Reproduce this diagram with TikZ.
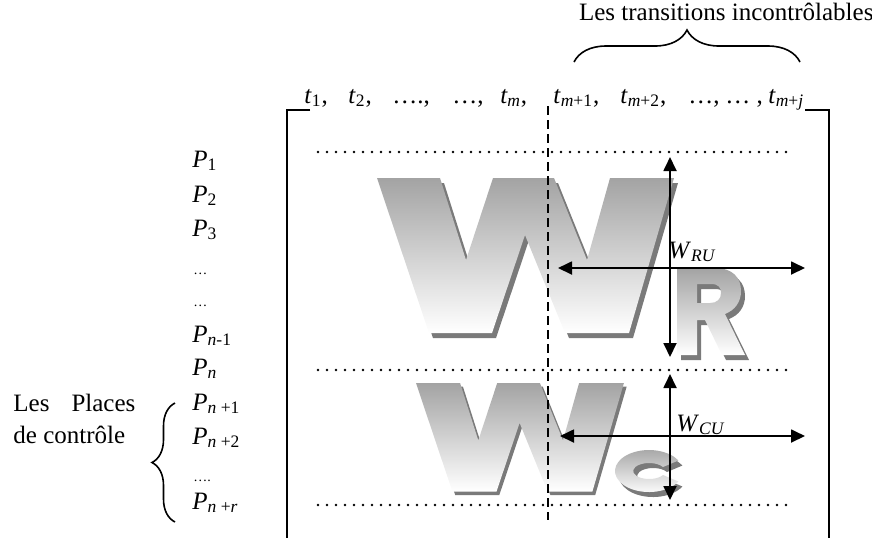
\documentclass[tikz,border=0pt]{standalone}
\usepackage{fontspec}
\setmainfont{Liberation Serif}
\usetikzlibrary{arrows.meta, positioning, decorations.pathreplacing}

\newcommand{\tsub}[1]{\textsubscript{#1}}
% outlines of the big letters
\newcommand{\wshape}{(0,0) -- (63,0) -- (89,-82) -- (116,0) -- (177,0) -- (210,-82) -- (233,0) -- (297,0) -- (252,-155) -- (188,-155) -- (148,-57) -- (115,-155) -- (52,-155) -- cycle}
\newcommand{\rshape}{(0,0) -- (38,0) .. controls (56,0) and (64,-10) .. (64,-23) .. controls (64,-34) and (58,-42) .. (48,-46) -- (68,-87) -- (45,-87) -- (28,-52) -- (20,-52) -- (20,-87) -- (0,-87) -- cycle (20,-16) -- (34,-16) .. controls (42,-16) and (44,-20) .. (44,-25) .. controls (44,-31) and (40,-35) .. (33,-35) -- (20,-35) -- cycle}
\newcommand{\cshape}{(34,-21) ++(30:34 and 21) arc[start angle=30, end angle=330, x radius=34, y radius=21] -- (48,-25) arc[start angle=330, end angle=30, x radius=16, y radius=8] -- cycle}

\tikzset{
    letterfill/.style={top color=black!36, bottom color=white},
    lettershadow/.style={fill=black!52},
    bigW/.pic={
        \fill[lettershadow, shift={(4,-5)}] \wshape;
        \shade[letterfill] \wshape;
    },
    bigR/.pic={
        \fill[lettershadow, even odd rule, shift={(4,-5)}] \rshape;
        \shade[letterfill, even odd rule] \rshape;
    },
    bigC/.pic={
        \fill[lettershadow, shift={(4,-5)}] \cshape;
        \shade[letterfill] \cshape;
    }
}

\begin{document}
\begin{tikzpicture}[
    x=0.5pt, y=0.5pt,
    font=\fontsize{12.5}{16}\selectfont,
    lbl/.style={anchor=base west, inner sep=0pt},
    dimarrow/.style={{Triangle[length=7pt,width=6.5pt]}-{Triangle[length=7pt,width=6.5pt]}, line width=0.9pt},
    rowline/.style={line width=1.3pt, dash pattern=on 0pt off 4.5pt, line cap=round},
    splitline/.style={line width=0.8pt, dash pattern=on 4.5pt off 2.5pt},
    bracket/.style={line width=1pt},
    curly/.style={decorate, decoration={brace, amplitude=#1}, line width=0.8pt}
]
\useasboundingbox (0,0) rectangle (872,-538);

% WordArt letters
\pic at (377,-178) {bigW};
\pic at (677,-268) {bigR};
\pic[scale=0.7] at (416,-383) {bigW};
\pic at (615,-450) {bigC};

% column header
\node[anchor=west] (title) at (572,-12) {Les transitions incontrôlables};
\coordinate (ucl) at (574,-62);
\coordinate (ucr) at (800,-62);
\draw[curly=16pt] (ucl) -- (ucr);

\node[lbl] (t1) at (304,-103) {\textit{t}\tsub{1},};
\node[lbl] (t2) at (348,-103) {\textit{t}\tsub{2},};
\node[lbl] (td1) at (392,-103) {….,};
\node[lbl] (td2) at (452,-103) {…,};
\node[lbl] (tm) at (500,-103) {\textit{t\tsub{m}},};
\node[lbl] (tm1) at (553,-103) {\textit{t}\tsub{\textit{m}+1},};
\node[lbl] (tm2) at (620,-103) {\textit{t}\tsub{\textit{m}+2},};
\node[lbl] (td3) at (688,-103) {…,};
\node[lbl] (td4) at (725,-103) {… ,};
\node[lbl] (tmj) at (768,-103) {\textit{t}\tsub{\textit{m}+\textit{j}}};

% row labels
\node[lbl] (p1) at (192,-167) {\textit{P}\tsub{1}};
\node[lbl] (p2) at (192,-202) {\textit{P}\tsub{2}};
\node[lbl] (p3) at (192,-236) {\textit{P}\tsub{3}};
\node[lbl, font=\scriptsize] (pd1) at (193,-274) {…};
\node[lbl, font=\scriptsize] (pd2) at (193,-306) {…};
\node[lbl] (pn1) at (192,-342) {\textit{P}\tsub{\textit{n}-1}};
\node[lbl] (pn) at (192,-375) {\textit{P}\tsub{\textit{n}}};
\node[lbl] (pnp1) at (192,-410) {\textit{P}\tsub{\textit{n} +1}};
\node[lbl] (pnp2) at (192,-444) {\textit{P}\tsub{\textit{n} +2}};
\node[lbl, font=\scriptsize] (pd3) at (193,-481) {….};
\node[lbl] (pnr) at (192,-509) {\textit{P}\tsub{\textit{n} +\textit{r}}};

\node[lbl] (places) at (13,-411) {\makebox[61pt][s]{Les Places}};
\node[lbl] (control) at (13,-443) {de contrôle};
\coordinate (lcb) at (175,-522);
\coordinate (lct) at (175,-403);
\draw[curly=11.5pt] (lcb) -- (lct);

% matrix frame
\coordinate (ltop) at (287,-110);
\coordinate (rtop) at (829,-110);
\draw[bracket] (310,-110) -- (ltop) -- (287,-538);
\draw[bracket] (805,-110) -- (rtop) -- (829,-538);

\coordinate (stop) at (548,-106);
\coordinate (sbot) at (548,-520);
\draw[splitline] (stop) -- (sbot);

\coordinate (r1l) at (318,-152);
\coordinate (r1r) at (795,-152);
\coordinate (r2l) at (318,-370);
\coordinate (r2r) at (795,-370);
\coordinate (r3l) at (318,-505);
\coordinate (r3r) at (795,-505);
\draw[rowline] (r1l) -- (r1r);
\draw[rowline] (r2l) -- (r2r);
\draw[rowline] (r3l) -- (r3r);

% dimensions of the sub-matrices
\coordinate (ruT) at (670,-157);
\coordinate (ruB) at (670,-357);
\coordinate (ruL) at (558,-268);
\coordinate (ruR) at (805,-268);
\coordinate (cuT) at (670,-374);
\coordinate (cuB) at (670,-500);
\coordinate (cuL) at (560,-436);
\coordinate (cuR) at (805,-436);
\draw[dimarrow] (ruT) -- (ruB);
\draw[dimarrow] (ruL) -- (ruR);
\draw[dimarrow] (cuT) -- (cuB);
\draw[dimarrow] (cuL) -- (cuR);

\node[anchor=west, inner sep=0pt] (wru) at (668,-252) {\textit{W}\tsub{\textit{RU}}};
\node[anchor=west, inner sep=0pt] (wcu) at (676,-425) {\textit{W}\tsub{\textit{CU}}};

\end{tikzpicture}
\end{document}
